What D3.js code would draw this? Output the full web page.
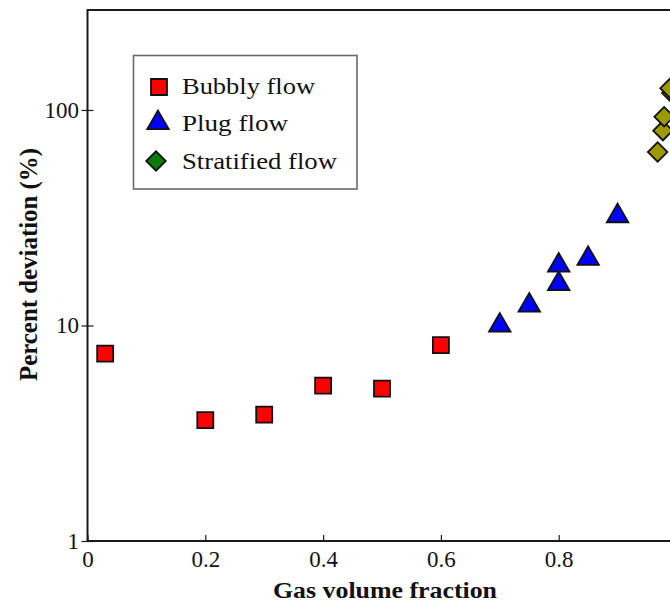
<!DOCTYPE html>
<html>
<head>
<meta charset="utf-8">
<script src="https://cdn.jsdelivr.net/npm/d3@7/dist/d3.min.js"></script>
<style>
  html, body { margin: 0; padding: 0; background: #fff; }
  svg { display: block; font-family: "Liberation Serif", "Times New Roman", serif; }
</style>
</head>
<body>
<svg id="chart" width="670" height="603"></svg>
<script>
// Percent deviation vs gas volume fraction, by flow regime
const bubblyX = [0.03, 0.2, 0.3, 0.4, 0.5, 0.6];
const bubblyY = [7.4, 3.64, 3.86, 5.26, 5.09, 8.1];

const plugX = [0.7, 0.75, 0.8, 0.8, 0.85, 0.9];
const plugY = [10.0, 12.4, 15.6, 19.0, 20.4, 32.2];

const stratX = [0.968, 0.977, 0.979, 0.992, 0.989];
const stratY = [63.8, 80.2, 93.1, 120, 126];

const xTicks = [0, 0.2, 0.4, 0.6, 0.8];
const yTicks = [1, 10, 100];
const legendLabels = ["Bubbly flow", "Plug flow", "Stratified flow"];

const svg = d3.select("#chart");
const serif = "Liberation Serif, Times New Roman, serif";

const x = d3.scaleLinear().domain([0, 1]).range([87.5, 676.5]);
const y = d3.scaleLog().domain([1, 291]).range([541, 10]);

const axisColor = "#1a1a1a";

// frame (top and left/bottom axes; right edge lies beyond the view)
svg.append("path")
  .attr("d", `M${x(1.05)},${y(291)} H${x(0)} V${y(1)} H${x(1.05)}`)
  .attr("fill", "none")
  .attr("stroke", axisColor)
  .attr("stroke-width", 2);

// x axis
const gx = svg.append("g")
  .attr("transform", `translate(0,${y(1)})`)
  .call(d3.axisBottom(x).tickValues(xTicks).tickFormat(d => d === 0 ? "0" : d3.format(".1f")(d))
    .tickSizeInner(-6).tickSizeOuter(0).tickPadding(10));
gx.select(".domain").remove();
gx.selectAll(".tick line").attr("stroke", axisColor).attr("stroke-width", 1.2);
gx.selectAll(".tick text").attr("font-size", 23).attr("fill", "#111")
  .attr("font-family", serif);

// y axis (log)
const gy = svg.append("g")
  .attr("transform", `translate(${x(0)},0)`)
  .call(d3.axisLeft(y).tickValues(yTicks).tickFormat(d3.format("d"))
    .tickSizeInner(6).tickSizeOuter(0).tickPadding(2.5));
gy.select(".domain").remove();
gy.selectAll(".tick line").attr("x1", -6).attr("x2", 6)
  .attr("stroke", axisColor).attr("stroke-width", 1.2);
gy.selectAll(".tick text").attr("font-size", 23).attr("fill", "#111")
  .attr("font-family", serif);

// axis titles
svg.append("text")
  .attr("x", 273).attr("y", 598)
  .attr("font-size", 24).attr("font-weight", "bold").attr("fill", "#111")
  .attr("textLength", 224).attr("lengthAdjust", "spacingAndGlyphs")
  .text("Gas volume fraction");

svg.append("text")
  .attr("transform", `translate(37,381) rotate(-90)`)
  .attr("font-size", 26).attr("font-weight", "bold").attr("fill", "#111")
  .attr("textLength", 233).attr("lengthAdjust", "spacingAndGlyphs")
  .text("Percent deviation (%)");

// markers
const squareSym = d3.symbol().type(d3.symbolSquare).size(256);
const triSym = d3.symbol().type(d3.symbolTriangle).size(200);
const diaSym = d3.symbol().type(d3.symbolSquare).size(190);

const bubbly = bubblyX.map((v, i) => ({ x: v, y: bubblyY[i] }));
const plug = plugX.map((v, i) => ({ x: v, y: plugY[i] }));
const strat = stratX.map((v, i) => ({ x: v, y: stratY[i] }));

svg.append("g").selectAll("path").data(bubbly).join("path")
  .attr("d", squareSym)
  .attr("transform", d => `translate(${x(d.x)},${y(d.y)})`)
  .attr("fill", "#ff0000").attr("stroke", "#111").attr("stroke-width", 1.8);

svg.append("g").selectAll("path").data(plug).join("path")
  .attr("d", triSym)
  .attr("transform", d => `translate(${x(d.x)},${y(d.y)})`)
  .attr("fill", "#0000ff").attr("stroke", "#111").attr("stroke-width", 1.8);

svg.append("g").selectAll("path").data(strat).join("path")
  .attr("d", diaSym)
  .attr("transform", d => `translate(${x(d.x)},${y(d.y)}) rotate(45)`)
  .attr("fill", "#9c9a00").attr("stroke", "#111").attr("stroke-width", 1.8);

// legend
const lg = svg.append("g");
lg.append("rect")
  .attr("x", 133.5).attr("y", 55.5).attr("width", 223.5).attr("height", 133.5)
  .attr("fill", "#fff").attr("stroke", "#6a6a6a").attr("stroke-width", 1.6);

const legendSyms = [
  { sym: squareSym, fill: "#ff0000", rot: 0, cx: 159, cy: 87, len: 133 },
  { sym: triSym, fill: "#0000ff", rot: 0, cx: 158, cy: 123, len: 106 },
  { sym: diaSym, fill: "#0a7a0a", rot: 45, cx: 156, cy: 161, len: 155 }
];
const baselines = [94, 131, 169];
legendLabels.forEach((label, i) => {
  const s = legendSyms[i];
  lg.append("path")
    .attr("d", s.sym)
    .attr("transform", `translate(${s.cx},${s.cy}) rotate(${s.rot})`)
    .attr("fill", s.fill).attr("stroke", "#111").attr("stroke-width", 1.8);
  lg.append("text")
    .attr("x", 182).attr("y", baselines[i])
    .attr("font-size", 24).attr("fill", "#111")
    .attr("textLength", s.len).attr("lengthAdjust", "spacingAndGlyphs")
    .text(label);
});
</script>
</body>
</html>
